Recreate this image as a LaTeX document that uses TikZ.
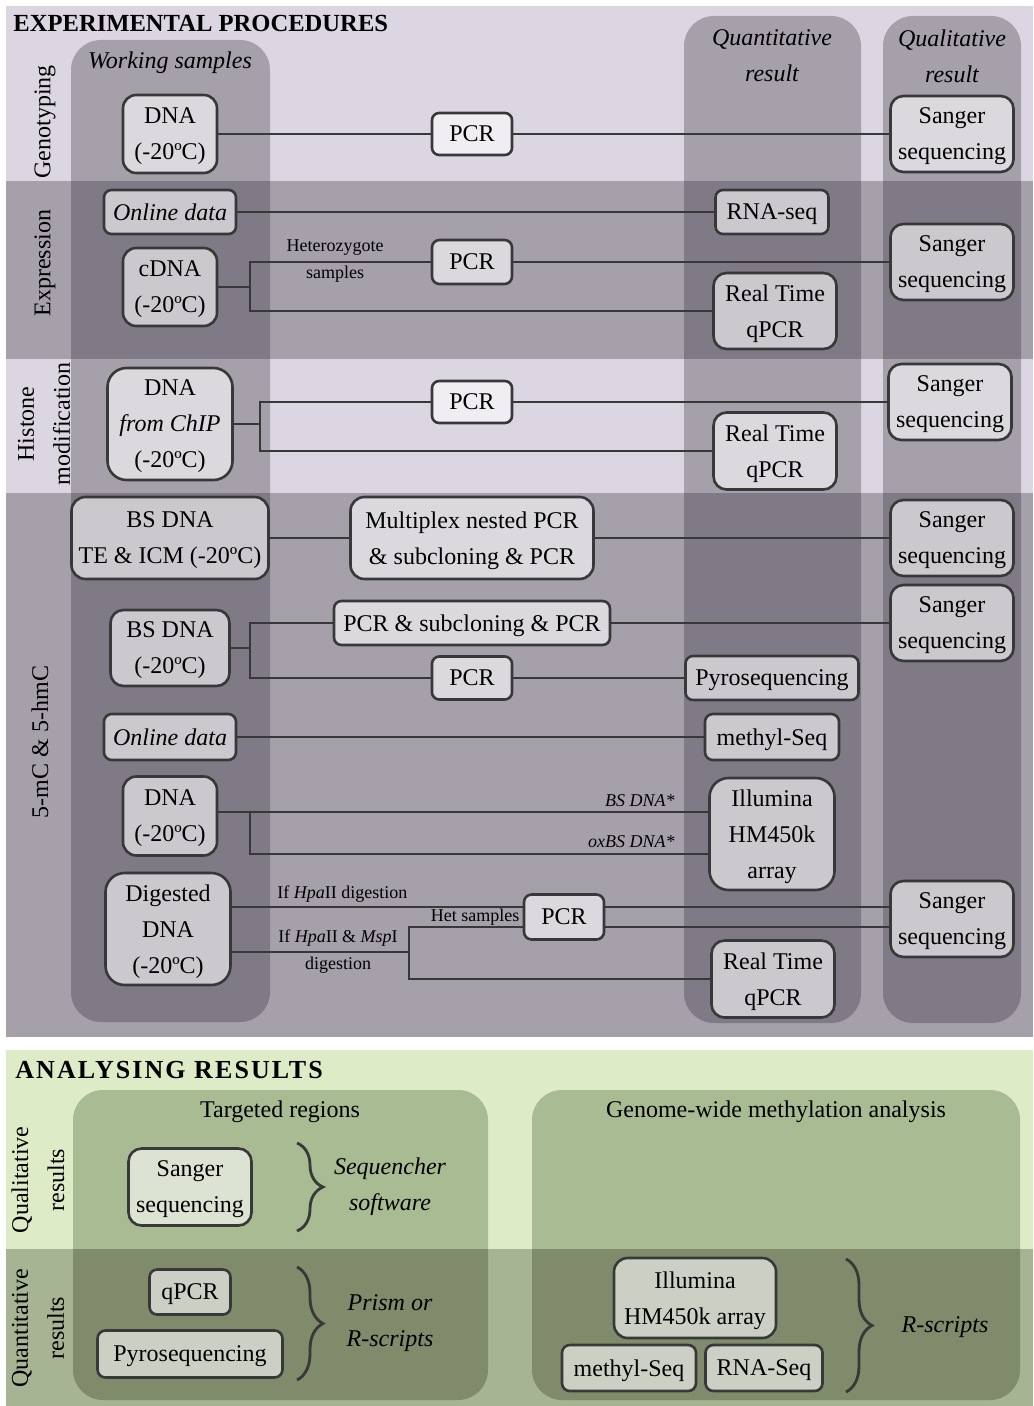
\documentclass[tikz,border=0pt]{standalone}
\usepackage{fontspec}
\setmainfont{Liberation Serif}
\usetikzlibrary{calc,decorations.pathreplacing}

\definecolor{rowlight}{HTML}{DCD6E2}
\definecolor{rowmid}{HTML}{A6A0AB}
\definecolor{rowdark}{HTML}{807A86}
\definecolor{greenlight}{HTML}{DDEBC7}
\definecolor{greenpanel}{HTML}{A9BB92}
\definecolor{greenrow}{HTML}{A6B493}
\definecolor{greendark}{HTML}{808B6C}
\definecolor{wire}{HTML}{383838}

\tikzset{
  boxstyle/.style={draw=wire, line width=1.3pt, fill=white, fill opacity=0.6, text opacity=1,
    align=center, inner sep=1pt, text depth=0pt, font=\fontsize{12}{18}\selectfont},
  boxsize/.style 2 args={minimum width=#1*0.5pt, minimum height=#2*0.5pt,
    rounded corners={min(#1,#2)*0.085pt}},
  wirestyle/.style={draw=wire, line width=1.2pt},
  labelstyle/.style={font=\fontsize{12}{18}\selectfont, align=center, inner sep=0pt},
  smalllabel/.style={font=\fontsize{9}{13.5}\selectfont, align=center, inner sep=0pt},
  titlestyle/.style={font=\fontsize{12.3}{18}\selectfont\bfseries, anchor=west, inner sep=0pt},
  bracestyle/.style={draw=wire, line width=1.4pt, decorate, decoration={brace, amplitude=13pt}},
}

\begin{document}
\begin{tikzpicture}[x=0.5pt, y=-0.5pt]
  \useasboundingbox (0,0) rectangle (1033,1406);

  % background of the procedures part
  \fill[rowlight] (6,6) rectangle (1033,1037);
  \fill[rowmid] (6,181) rectangle (1033,359);
  \fill[rowmid] (6,493) rectangle (1033,1037);
  % columns: working samples, quantitative, qualitative
  \foreach \xa/\ya/\xb/\yb in {71/40/270/1022, 684/16/861/1023, 883/16/1021/1023}{
    \fill[rowmid, rounded corners=15pt] (\xa,\ya) rectangle (\xb,\yb);
    \begin{scope}
      \clip[rounded corners=15pt] (\xa,\ya) rectangle (\xb,\yb);
      \fill[rowdark] (6,181) rectangle (1033,359);
      \fill[rowdark] (6,493) rectangle (1033,1037);
    \end{scope}
  }

  % background of the analysis part
  \fill[greenlight] (6,1050) rectangle (1033,1249);
  \fill[greenrow] (6,1249) rectangle (1033,1406);
  \foreach \xa/\xb in {73/488, 532/1020}{
    \fill[greenpanel, rounded corners=15pt] (\xa,1090) rectangle (\xb,1400);
    \begin{scope}
      \clip[rounded corners=15pt] (\xa,1090) rectangle (\xb,1400);
      \fill[greendark] (6,1249) rectangle (1033,1406);
    \end{scope}
  }

  % titles and headers
  \node[titlestyle] (titleexp) at (13,23) {EXPERIMENTAL PROCEDURES};
  \node[titlestyle, font=\fontsize{13}{18}\selectfont\bfseries\addfontfeature{LetterSpace=8}] (titleana) at (15,1070) {ANALYSING RESULTS};
  \node[labelstyle, font=\fontsize{12}{18}\selectfont\itshape] (hdwork) at (170,63) {Working samples};
  \node[labelstyle, font=\fontsize{12}{18}\selectfont\itshape] (hdquant) at (772,56) {Quantitative\\result};
  \node[labelstyle, font=\fontsize{12}{18}\selectfont\itshape] (hdqual) at (952,56) {Qualitative\\result};

  % row labels
  \node[labelstyle, rotate=90] (rowgeno) at (45,122) {Genotyping};
  \node[labelstyle, rotate=90] (rowexpr) at (45,263) {Expression};
  \node[labelstyle, rotate=90] (rowhist) at (44,424) {Histone\\modification};
  \node[labelstyle, rotate=90] (rowmeth) at (40,742) {5-mC \& 5-hmC};
  \node[labelstyle, rotate=90] (rowqual) at (38,1180) {Qualitative\\results};
  \node[labelstyle, rotate=90] (rowquant) at (38,1328) {Quantitative\\results};

  % Genotyping
  \node[boxstyle, boxsize={94}{78}] (dnaG) at (170,134) {DNA\\(-20ºC)};
  \node[boxstyle, boxsize={80}{42}] (pcrG) at (472,134) {PCR};
  \node[boxstyle, boxsize={123}{76}] (sangerG) at (952,134) {Sanger\\sequencing};
  \draw[wirestyle] (dnaG) -- (pcrG) -- (sangerG);

  % Expression
  \node[boxstyle, boxsize={132}{44}] (onlineE) at (170,212) {\textit{Online data}};
  \node[boxstyle, boxsize={113}{44}] (rnaseqE) at (772,212) {RNA-seq};
  \node[boxstyle, boxsize={94}{78}] (cdnaE) at (170,287) {cDNA\\(-20ºC)};
  \node[boxstyle, boxsize={80}{44}] (pcrE) at (472,262) {PCR};
  \node[boxstyle, boxsize={123}{76}] (sangerE) at (952,262) {Sanger\\sequencing};
  \node[boxstyle, boxsize={123}{76}] (rtE) at (775,311) {Real Time\\qPCR};
  \coordinate (brE) at (250,287);
  \draw[wirestyle] (onlineE) -- (rnaseqE);
  \draw[wirestyle] (cdnaE) -- (brE);
  \draw[wirestyle] (pcrE) -| (brE) |- (rtE);
  \draw[wirestyle] (pcrE) -- (sangerE);
  \node[smalllabel] (hetE) at (335,261) {Heterozygote\\samples};

  % Histone modification
  \node[boxstyle, boxsize={125}{112}] (chipH) at (170,424) {DNA\\\textit{from ChIP}\\(-20ºC)};
  \node[boxstyle, boxsize={80}{42}] (pcrH) at (472,402) {PCR};
  \node[boxstyle, boxsize={123}{76}] (sangerH) at (950,402) {Sanger\\sequencing};
  \node[boxstyle, boxsize={123}{77}] (rtH) at (775,451) {Real Time\\qPCR};
  \coordinate (brH) at (260,424);
  \draw[wirestyle] (chipH) -- (brH);
  \draw[wirestyle] (pcrH) -| (brH) |- (rtH);
  \draw[wirestyle] (pcrH) -- (sangerH);

  % 5-mC and 5-hmC
  \node[boxstyle, boxsize={197}{82}] (bsteM) at (170,538) {BS DNA\\TE \& ICM (-20ºC)};
  \node[boxstyle, boxsize={243}{82}] (multiM) at (472,538) {Multiplex nested PCR\\\& subcloning \& PCR};
  \node[boxstyle, boxsize={123}{76}] (sangerMa) at (952,538) {Sanger\\sequencing};
  \draw[wirestyle] (bsteM) -- (multiM) -- (sangerMa);

  \node[boxstyle, boxsize={119}{76}] (bsM) at (170,648) {BS DNA\\(-20ºC)};
  \node[boxstyle, boxsize={276}{44}] (pcrsubM) at (472,623) {PCR \& subcloning \& PCR};
  \node[boxstyle, boxsize={123}{76}] (sangerMb) at (952,623) {Sanger\\sequencing};
  \node[boxstyle, boxsize={80}{43}] (pcrM) at (472,678) {PCR};
  \node[boxstyle, boxsize={173}{44}] (pyroM) at (772,678) {Pyrosequencing};
  \coordinate (brM) at (250,648);
  \draw[wirestyle] (bsM) -- (brM);
  \draw[wirestyle] (pcrsubM) -| (brM) |- (pcrM);
  \draw[wirestyle] (pcrsubM) -- (sangerMb);
  \draw[wirestyle] (pcrM) -- (pyroM);

  \node[boxstyle, boxsize={132}{46}] (onlineM) at (170,737) {\textit{Online data}};
  \node[boxstyle, boxsize={134}{46}] (methylM) at (772,737) {methyl-Seq};
  \draw[wirestyle] (onlineM) -- (methylM);

  \node[boxstyle, boxsize={94}{79}] (dnaM) at (170,816) {DNA\\(-20ºC)};
  \node[boxstyle, boxsize={125}{112}] (illuM) at (772,834) {Illumina\\HM450k\\array};
  \coordinate (brMc) at (250,812);
  \coordinate (oxbsIn) at (illuM.west |- 0,854);
  \draw[wirestyle] (dnaM.east |- brMc) -- (illuM.west |- brMc);
  \draw[wirestyle] (brMc) |- (oxbsIn);
  \node[smalllabel, font=\fontsize{9}{13.5}\selectfont\itshape, anchor=east] (bslbl) at (675,801) {BS DNA*};
  \node[smalllabel, font=\fontsize{9}{13.5}\selectfont\itshape, anchor=east] (oxlbl) at (675,842) {oxBS DNA*};

  \node[boxstyle, boxsize={125}{112}] (digM) at (168,929) {Digested\\DNA\\(-20ºC)};
  \node[boxstyle, boxsize={80}{45}] (pcrD) at (564,917) {PCR};
  \node[boxstyle, boxsize={123}{76}] (sangerD) at (952,919) {Sanger\\sequencing};
  \node[boxstyle, boxsize={123}{77}] (rtD) at (773,979) {Real Time\\qPCR};
  \coordinate (hpaY) at (0,907);
  \coordinate (hetY) at (0,927);
  \coordinate (brD) at (409,952);
  \draw[wirestyle] (digM.east |- hpaY) -- (pcrD.west |- hpaY);
  \draw[wirestyle] (pcrD.east |- hpaY) -- (sangerD.west |- hpaY);
  \draw[wirestyle] (pcrD.east |- hetY) -- (sangerD.west |- hetY);
  \draw[wirestyle] (digM.east |- brD) -- (brD);
  \draw[wirestyle] (pcrD.west |- hetY) -| (brD) |- (rtD);
  \node[smalllabel, anchor=west] (hpalbl) at (277,894) {If \textit{Hpa}II digestion};
  \node[smalllabel] (hpamsplbl) at (338,952) {If \textit{Hpa}II \& \textit{Msp}I\\digestion};
  \node[smalllabel] (hetlbl) at (475,917) {Het samples};

  % Analysing results
  \node[labelstyle] (tgtA) at (280,1112) {Targeted regions};
  \node[labelstyle] (gwA) at (776,1112) {Genome-wide methylation analysis};
  \node[boxstyle, boxsize={123}{77}] (sangerA) at (190,1187) {Sanger\\sequencing};
  \node[boxstyle, boxsize={81}{45}] (qpcrA) at (190,1292) {qPCR};
  \node[boxstyle, boxsize={185}{47}] (pyroA) at (190,1354) {Pyrosequencing};
  \node[boxstyle, boxsize={162}{80}] (illuA) at (695,1298) {Illumina\\HM450k array};
  \node[boxstyle, boxsize={134}{46}] (methylA) at (629,1368) {methyl-Seq};
  \node[boxstyle, boxsize={117}{46}] (rnaA) at (764,1368) {RNA-Seq};

  % braces and software
  \draw[bracestyle] (297,1143) -- (297,1231);
  \draw[bracestyle] (297,1267) -- (297,1380);
  \draw[bracestyle] (846,1259) -- (846,1392);
  \node[labelstyle, font=\fontsize{12}{18}\selectfont\itshape] (seqA) at (390,1187) {Sequencher\\software};
  \node[labelstyle, font=\fontsize{12}{18}\selectfont\itshape] (prismA) at (390,1323) {Prism or\\R-scripts};
  \node[labelstyle, font=\fontsize{12}{18}\selectfont\itshape] (rscrA) at (945,1327) {R-scripts};

\end{tikzpicture}
\end{document}
